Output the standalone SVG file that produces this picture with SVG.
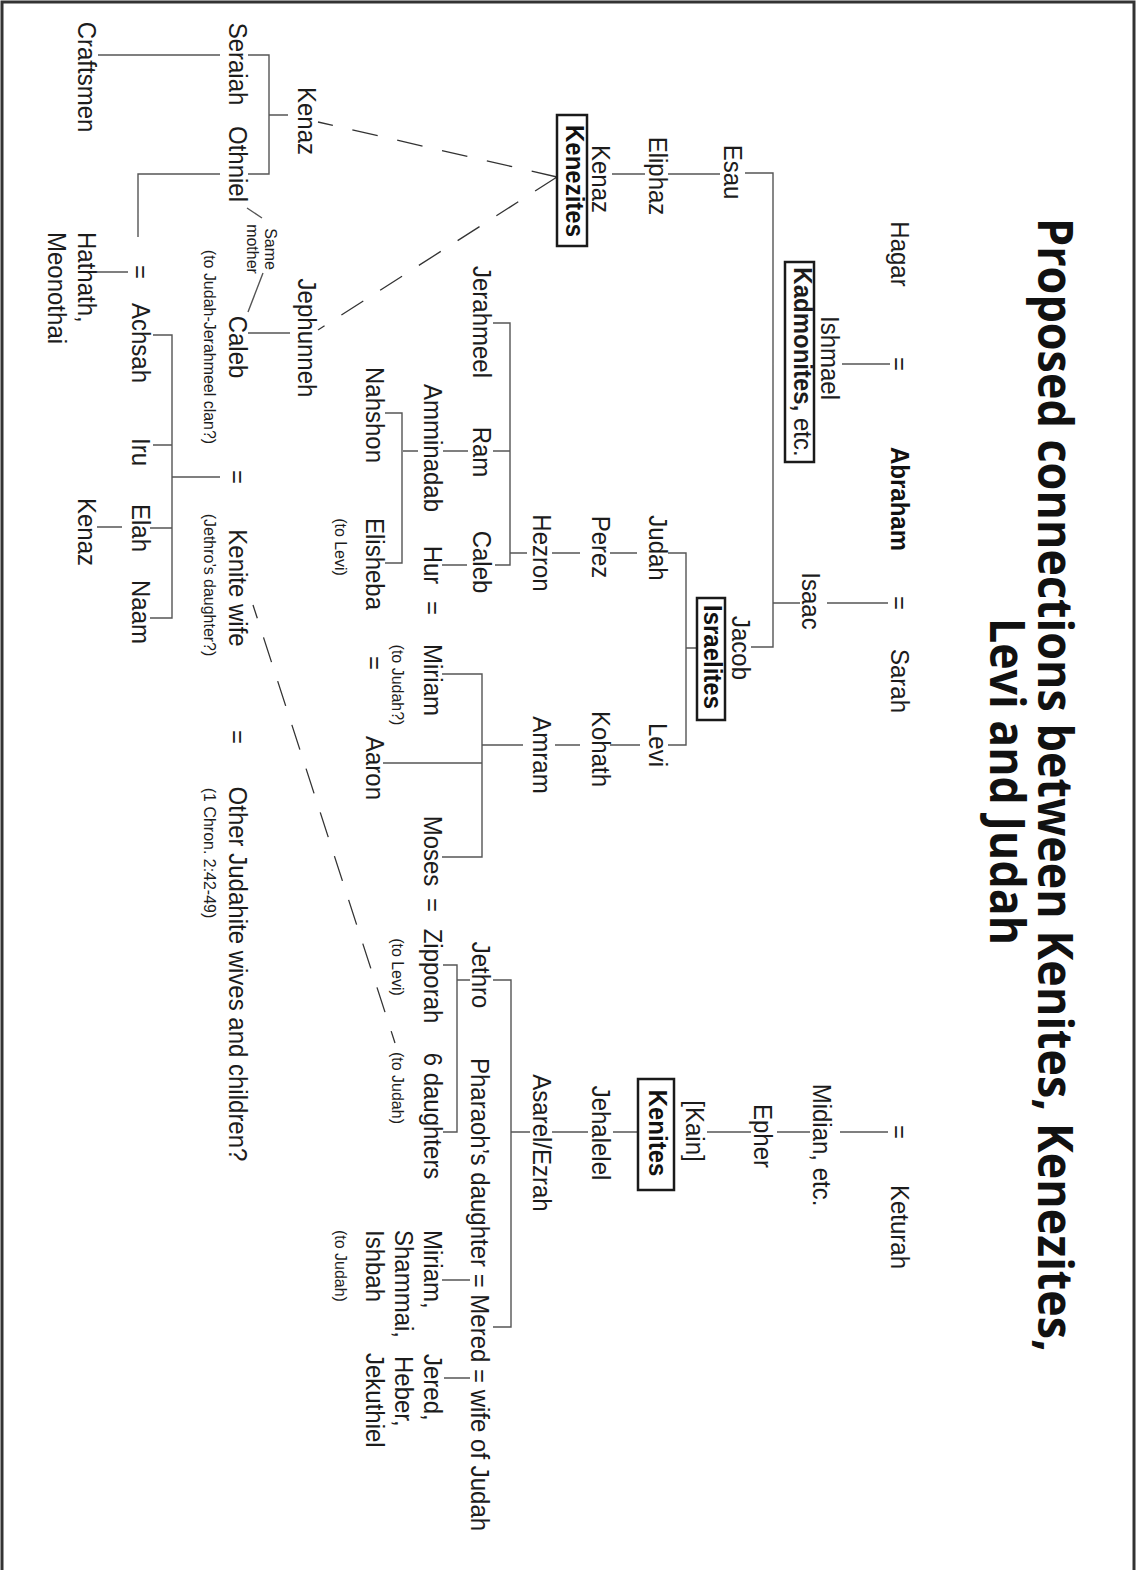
<svg xmlns="http://www.w3.org/2000/svg" width="1137" height="1570" viewBox="0 0 1137 1570">
<style>
.n{font-family:"Liberation Sans",Arial,sans-serif;font-size:25px;fill:#1c1c1c}
.b{font-weight:bold;fill:#111}
.s{font-size:17px}
.m{text-anchor:middle}
.t{font-family:"Open Sans","Liberation Sans",sans-serif;font-weight:700;font-size:49px;fill:#111}
.ln{stroke:#555;stroke-width:1.4;fill:none}
.ds{stroke:#333;stroke-width:1.3;stroke-dasharray:26 20;fill:none}
.bx{fill:#fff;stroke:#1a1a1a;stroke-width:2.5}
</style>
<rect x="0" y="0" width="1137" height="1570" fill="#fff"/>
<rect x="2" y="2" width="1132" height="1590" fill="none" stroke="#333" stroke-width="3"/>

<g id="connectors">
<path class="ln" d="M842 364H890M827 603H888M773 603H800M745 173H773V647H751M668 174H720M612 174H645"/>
<path class="ln" d="M840 1132H888M777 1132H810M707 1132H751M613 1132H638M552 1132H588M511 1132H530M493 980H511V1327H493M457 980H470M443 965H457V1132H443M442 1280H470M444 1378H470"/>
<path class="ln" d="M686 648H697M668 553H686V745H668M610 553H637M552 553H580M510 553H527M493 323H510V565H495M493 451H510M443 451H468M403 451H418M385 413H402V563H385M442 565H467"/>
<path class="ln" d="M610 745H640M555 745H580M482 745H523M442 674H482V857H442M383 763H482"/>
<path class="ln" d="M248 333H290M172 477H220M153 335H172V618H150M153 445H172M150 528H172M97 527H122M220 174H138V237M97 272H128M98 55H220M248 55H269V174H248M269 115H288M247 208L262 218M263 273L248 312"/>
<path class="ds" d="M557 177L318 122M557 177L318 330"/>
<path class="ds" d="M253 605L395 1043" stroke-dashoffset="12"/>
</g>

<g id="title">
<text class="t" transform="translate(1038 218) rotate(90)" textLength="1134" lengthAdjust="spacingAndGlyphs">Proposed connections between Kenites, Kenezites,</text>
<text class="t" transform="translate(990 618) rotate(90)" textLength="327" lengthAdjust="spacingAndGlyphs">Levi and Judah</text>
</g>

<g id="hagar"><text class="n m" transform="translate(891 254) rotate(90) scale(.96 1)">Hagar</text></g>
<g id="eq-abraham-hagar"><text class="n m" transform="translate(891 364) rotate(90) scale(.96 1)">=</text></g>
<g id="abraham"><text class="n m b" transform="translate(891 499) rotate(90) scale(.96 1)">Abraham</text></g>
<g id="eq-abraham-sarah"><text class="n m" transform="translate(891 603) rotate(90) scale(.96 1)">=</text></g>
<g id="sarah"><text class="n m" transform="translate(891 681) rotate(90) scale(.96 1)">Sarah</text></g>
<g id="eq-abraham-keturah"><text class="n m" transform="translate(891 1132) rotate(90) scale(.96 1)">=</text></g>
<g id="keturah"><text class="n m" transform="translate(891 1227) rotate(90) scale(.96 1)">Keturah</text></g>
<g id="ishmael"><text class="n m" transform="translate(821 358) rotate(90) scale(.96 1)">Ishmael</text></g>
<g id="kadmonites"><rect class="bx" x="785" y="262" width="29" height="200"/><text class="n m" transform="translate(794 362) rotate(90) scale(.96 1)"><tspan font-weight="bold">Kadmonites,</tspan> etc.</text></g>
<g id="isaac"><text class="n m" transform="translate(802 601) rotate(90) scale(.96 1)">Isaac</text></g>
<g id="midian"><text class="n m" transform="translate(813 1145) rotate(90) scale(.96 1)">Midian, etc.</text></g>
<g id="epher"><text class="n m" transform="translate(754 1136) rotate(90) scale(.96 1)">Epher</text></g>
<g id="kain"><text class="n m" transform="translate(686 1131) rotate(90) scale(.96 1)">[Kain]</text></g>
<g id="kenites"><rect class="bx" x="638" y="1079" width="36" height="111"/><text class="n m b" transform="translate(649 1133) rotate(90) scale(.96 1)">Kenites</text></g>
<g id="jehalelel"><text class="n m" transform="translate(592 1133) rotate(90) scale(.96 1)">Jehalelel</text></g>
<g id="asarel"><text class="n m" transform="translate(533 1143) rotate(90) scale(.96 1)">Asarel/Ezrah</text></g>
<g id="jethro"><text class="n m" transform="translate(472 975) rotate(90) scale(.96 1)">Jethro</text></g>
<g id="mered"><text class="n" transform="translate(471 1058) rotate(90) scale(.96 1)">Pharaoh’s daughter = Mered = wife of Judah</text></g>
<g id="zipporah"><text class="n m" transform="translate(424 976) rotate(90) scale(.96 1)">Zipporah</text><text class="n m s" transform="translate(392 967) rotate(90) scale(.94 1)">(to Levi)</text></g>
<g id="daughters"><text class="n m" transform="translate(424 1116) rotate(90) scale(.96 1)">6 daughters</text><text class="n m s" transform="translate(392 1088) rotate(90) scale(.94 1)">(to Judah)</text></g>
<g id="miriam-shammai"><text class="n" transform="translate(424 1230) rotate(90) scale(.96 1)">Miriam,</text><text class="n" transform="translate(395 1230) rotate(90) scale(.96 1)">Shammai,</text><text class="n" transform="translate(366 1230) rotate(90) scale(.96 1)">Ishbah</text><text class="n s" transform="translate(335 1230) rotate(90) scale(.94 1)">(to Judah)</text></g>
<g id="jered-heber"><text class="n" transform="translate(424 1354) rotate(90) scale(.96 1)">Jered,</text><text class="n" transform="translate(395 1356) rotate(90) scale(.96 1)">Heber,</text><text class="n" transform="translate(366 1353) rotate(90) scale(.96 1)">Jekuthiel</text></g>

<g id="esau"><text class="n m" transform="translate(724 172) rotate(90) scale(.96 1)">Esau</text></g>
<g id="eliphaz"><text class="n m" transform="translate(649 176) rotate(90) scale(.96 1)">Eliphaz</text></g>
<g id="kenaz-edom"><text class="n m" transform="translate(592 179) rotate(90) scale(.96 1)">Kenaz</text></g>
<g id="kenezites"><rect class="bx" x="557" y="115" width="30" height="131"/><text class="n m b" transform="translate(566 181) rotate(90) scale(.96 1)">Kenezites</text></g>
<g id="jacob"><text class="n m" transform="translate(732 648) rotate(90) scale(.96 1)">Jacob</text></g>
<g id="israelites"><rect class="bx" x="697" y="598" width="28" height="122"/><text class="n m b" transform="translate(704 657) rotate(90) scale(.96 1)">Israelites</text></g>
<g id="judah"><text class="n m" transform="translate(649 548) rotate(90) scale(.96 1)">Judah</text></g>
<g id="perez"><text class="n m" transform="translate(592 547) rotate(90) scale(.96 1)">Perez</text></g>
<g id="hezron"><text class="n m" transform="translate(533 553) rotate(90) scale(.96 1)">Hezron</text></g>
<g id="levi"><text class="n m" transform="translate(649 745) rotate(90) scale(.96 1)">Levi</text></g>
<g id="kohath"><text class="n m" transform="translate(592 749) rotate(90) scale(.96 1)">Kohath</text></g>
<g id="amram"><text class="n m" transform="translate(533 755) rotate(90) scale(.96 1)">Amram</text></g>
<g id="jerahmeel"><text class="n m" transform="translate(473 322) rotate(90) scale(.96 1)">Jerahmeel</text></g>
<g id="ram"><text class="n m" transform="translate(473 452) rotate(90) scale(.96 1)">Ram</text></g>
<g id="caleb-hezron"><text class="n m" transform="translate(473 562) rotate(90) scale(.96 1)">Caleb</text></g>
<g id="amminadab"><text class="n m" transform="translate(424 448) rotate(90) scale(.96 1)">Amminadab</text></g>
<g id="nahshon"><text class="n m" transform="translate(366 415) rotate(90) scale(.96 1)">Nahshon</text></g>
<g id="elisheba"><text class="n m" transform="translate(366 564) rotate(90) scale(.96 1)">Elisheba</text><text class="n m s" transform="translate(335 547) rotate(90) scale(.94 1)">(to Levi)</text></g>
<g id="hur"><text class="n m" transform="translate(424 565) rotate(90) scale(.96 1)">Hur</text></g>
<g id="eq-hur-miriam"><text class="n m" transform="translate(424 608) rotate(90) scale(.96 1)">=</text></g>
<g id="miriam"><text class="n m" transform="translate(424 680) rotate(90) scale(.96 1)">Miriam</text><text class="n m s" transform="translate(392 685) rotate(90) scale(.94 1)">(to Judah?)</text></g>
<g id="eq-elisheba-aaron"><text class="n m" transform="translate(366 663) rotate(90) scale(.96 1)">=</text></g>
<g id="aaron"><text class="n m" transform="translate(366 768) rotate(90) scale(.96 1)">Aaron</text></g>
<g id="moses"><text class="n m" transform="translate(424 851) rotate(90) scale(.96 1)">Moses</text></g>
<g id="eq-moses-zipporah"><text class="n m" transform="translate(424 905) rotate(90) scale(.96 1)">=</text></g>

<g id="kenaz-father"><text class="n m" transform="translate(298 121) rotate(90) scale(.96 1)">Kenaz</text></g>
<g id="seraiah"><text class="n m" transform="translate(229 64) rotate(90) scale(.96 1)">Seraiah</text></g>
<g id="craftsmen"><text class="n m" transform="translate(78 77) rotate(90) scale(.96 1)">Craftsmen</text></g>
<g id="othniel"><text class="n m" transform="translate(229 164) rotate(90) scale(.96 1)">Othniel</text></g>
<g id="jephunneh"><text class="n m" transform="translate(298 338) rotate(90) scale(.96 1)">Jephunneh</text></g>
<g id="caleb"><text class="n m" transform="translate(229 347) rotate(90) scale(.96 1)">Caleb</text><text class="n m s" transform="translate(204 347) rotate(90) scale(.94 1)">(to Judah-Jerahmeel clan?)</text></g>
<g id="same-mother"><text class="n m s" transform="translate(265 249) rotate(90) scale(.94 1)">Same</text><text class="n m s" transform="translate(247 249) rotate(90) scale(.94 1)">mother</text></g>
<g id="eq-othniel-achsah"><text class="n m" transform="translate(132 272) rotate(90) scale(.96 1)">=</text></g>
<g id="achsah"><text class="n m" transform="translate(132 343) rotate(90) scale(.96 1)">Achsah</text></g>
<g id="hathath"><text class="n" transform="translate(78 232) rotate(90) scale(.96 1)">Hathath,</text><text class="n" transform="translate(48 232) rotate(90) scale(.96 1)">Meonothai</text></g>
<g id="iru"><text class="n m" transform="translate(132 452) rotate(90) scale(.96 1)">Iru</text></g>
<g id="elah"><text class="n m" transform="translate(132 528) rotate(90) scale(.96 1)">Elah</text></g>
<g id="naam"><text class="n m" transform="translate(132 612) rotate(90) scale(.96 1)">Naam</text></g>
<g id="kenaz-son"><text class="n m" transform="translate(78 532) rotate(90) scale(.96 1)">Kenaz</text></g>
<g id="eq-caleb-wife"><text class="n m" transform="translate(229 477) rotate(90) scale(.96 1)">=</text></g>
<g id="kenite-wife"><text class="n m" transform="translate(229 588) rotate(90) scale(.96 1)">Kenite wife</text><text class="n m s" transform="translate(204 585) rotate(90) scale(.94 1)">(Jethro’s daughter?)</text></g>
<g id="eq-caleb-other"><text class="n m" transform="translate(229 737) rotate(90) scale(.96 1)">=</text></g>
<g id="other-wives"><text class="n m" transform="translate(229 974) rotate(90) scale(.96 1)">Other Judahite wives and children?</text><text class="n m s" transform="translate(204 853) rotate(90) scale(.94 1)">(1 Chron. 2:42-49)</text></g>
</svg>
